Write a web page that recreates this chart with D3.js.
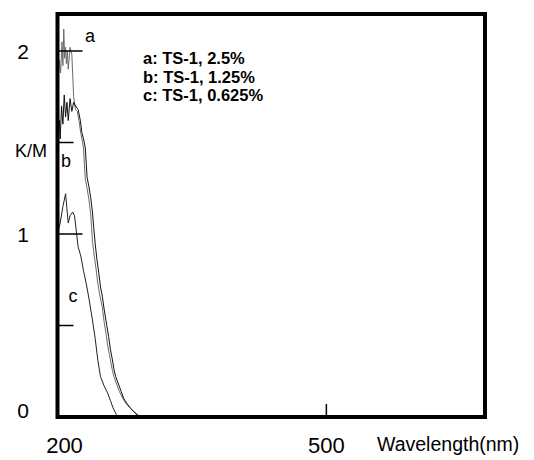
<!DOCTYPE html>
<html>
<script src="https://d3js.org/d3.v7.min.js"></script>
<style>
    body {
        margin: 0;
        background: #fff;
    }

    text {
        font-family: "Liberation Sans", Arial, sans-serif;
    }
</style>

<body></body>
<script>
    const width = 534,
        height = 460;

    // wavelength (nm), K/M
    const curveA = [[200.5, 1.82], [202, 1.95], [203.5, 1.88], [205, 2.05], [206, 1.92], [207, 2.12], [208, 1.96],
        [209, 2.02], [210, 1.93], [211, 2.0], [212, 1.90], [214, 2.02], [216, 1.98], [218, 1.75], [220, 1.68],
        [222, 1.67], [224, 1.62], [226, 1.55], [228, 1.50], [229, 1.47], [230, 1.38], [231, 1.30], [233, 1.25],
        [235, 1.19], [237, 1.11], [238, 1.04], [239, 0.96], [241, 0.88], [243, 0.81], [245, 0.73], [247, 0.67],
        [250, 0.60], [252, 0.52], [254, 0.46], [256, 0.39], [258, 0.34], [261, 0.26], [263, 0.22], [266, 0.18],
        [269, 0.14], [273, 0.10], [277, 0.07], [281, 0.05], [285, 0.03], [289, 0.015], [293, 0]
    ];
    const curveB = [[200.5, 1.55], [202, 1.62], [203, 1.52], [204.5, 1.70], [206, 1.60], [207.5, 1.76],
        [209, 1.64], [210.5, 1.72], [212, 1.62], [214, 1.74], [216, 1.67], [218, 1.72], [220, 1.70], [223, 1.68],
        [225.5, 1.62], [227, 1.56], [229, 1.52], [231, 1.47], [232, 1.39], [233, 1.31], [235, 1.26], [237, 1.20],
        [239, 1.12], [240.5, 1.03], [242, 0.95], [244, 0.86], [246, 0.79], [248, 0.71], [250, 0.66], [252, 0.59],
        [255, 0.50], [257, 0.44], [259, 0.37], [261, 0.32], [263, 0.26], [265, 0.22], [268, 0.18], [271, 0.14],
        [274, 0.10], [278, 0.07], [282, 0.045], [286, 0.025], [289, 0.01], [291, 0]
    ];
    const curveC = [[201, 1.02], [203, 1.06], [206, 1.15], [209, 1.22], [212, 1.06], [214, 1.10], [217, 1.12],
        [219, 1.10], [223, 0.93], [226, 0.88], [229, 0.80], [232, 0.73], [235, 0.65], [239, 0.53], [242, 0.43],
        [245, 0.31], [248, 0.22], [252, 0.17], [256, 0.13], [259, 0.09], [262, 0.05], [265, 0.02], [267, 0]
    ];
    const series = [
        { name: "a", data: curveA, color: "#6a6a6a" },
        { name: "b", data: curveB, color: "#111" },
        { name: "c", data: curveC, color: "#222" }
    ];
    const legend = ["a: TS-1, 2.5%", "b: TS-1, 1.25%", "c: TS-1, 0.625%"];
    const yMajor = [1, 2];
    const yMinor = [0.5, 1.5];
    const yLabels = [0, 1, 2];
    const xLabels = [200, 500];

    const svg = d3.select("body").append("svg").attr("width", width).attr("height", height);

    const x = d3.scaleLinear().domain([200, 677]).range([57.5, 485]);
    const y = d3.scaleLinear().domain([0, 2]).range([417, 51]);

    const line = d3.line().x(d => x(d[0])).y(d => y(d[1]));

    svg.selectAll(".curve")
        .data(series)
        .join("path")
        .attr("class", "curve")
        .attr("fill", "none")
        .attr("stroke", d => d.color)
        .attr("stroke-width", 1)
        .attr("d", d => line(d.data));

    // ticks inside the frame
    svg.selectAll(".ymaj")
        .data(yMajor)
        .join("line")
        .attr("x1", x(200)).attr("x2", x(200) + 25)
        .attr("y1", d => y(d)).attr("y2", d => y(d))
        .attr("stroke", "black").attr("stroke-width", 1.5);
    svg.selectAll(".ymin")
        .data(yMinor)
        .join("line")
        .attr("x1", x(200)).attr("x2", x(200) + 16)
        .attr("y1", d => y(d)).attr("y2", d => y(d))
        .attr("stroke", "black").attr("stroke-width", 1.5);
    svg.append("line")
        .attr("x1", x(500)).attr("x2", x(500))
        .attr("y1", y(0)).attr("y2", y(0) - 13)
        .attr("stroke", "black").attr("stroke-width", 1.5);

    // frame
    svg.append("rect")
        .attr("x", x(200)).attr("y", 14)
        .attr("width", x(677) - x(200)).attr("height", y(0) - 14)
        .attr("fill", "none").attr("stroke", "black").attr("stroke-width", 4);

    svg.selectAll(".ylab")
        .data(yLabels)
        .join("text")
        .attr("x", 23)
        .attr("y", d => d === 0 ? y(d) + 1 : y(d) + 8)
        .attr("text-anchor", "middle")
        .attr("font-size", 21)
        .text(d => d);
    svg.append("text").attr("x", 31).attr("y", 157).attr("text-anchor", "middle")
        .attr("font-size", 18).text("K/M");

    svg.selectAll(".xlab")
        .data(xLabels)
        .join("text")
        .attr("x", d => d === 200 ? x(d) + 7 : x(d))
        .attr("y", 453)
        .attr("text-anchor", "middle")
        .attr("font-size", 22)
        .text(d => d);
    svg.append("text").attr("x", 377).attr("y", 451)
        .attr("font-size", 19.5).text("Wavelength(nm)");

    // curve labels
    svg.append("text").attr("x", 90).attr("y", 42).attr("text-anchor", "middle").attr("font-size", 18).text("a");
    svg.append("text").attr("x", 66).attr("y", 167).attr("text-anchor", "middle").attr("font-size", 18).text("b");
    svg.append("text").attr("x", 73).attr("y", 302).attr("text-anchor", "middle").attr("font-size", 18).text("c");

    svg.selectAll(".leg")
        .data(legend)
        .join("text")
        .attr("x", 143)
        .attr("y", (d, i) => 64 + i * 18.5)
        .attr("font-size", 16.5)
        .attr("font-weight", "bold")
        .text(d => d);
</script>

</html>
